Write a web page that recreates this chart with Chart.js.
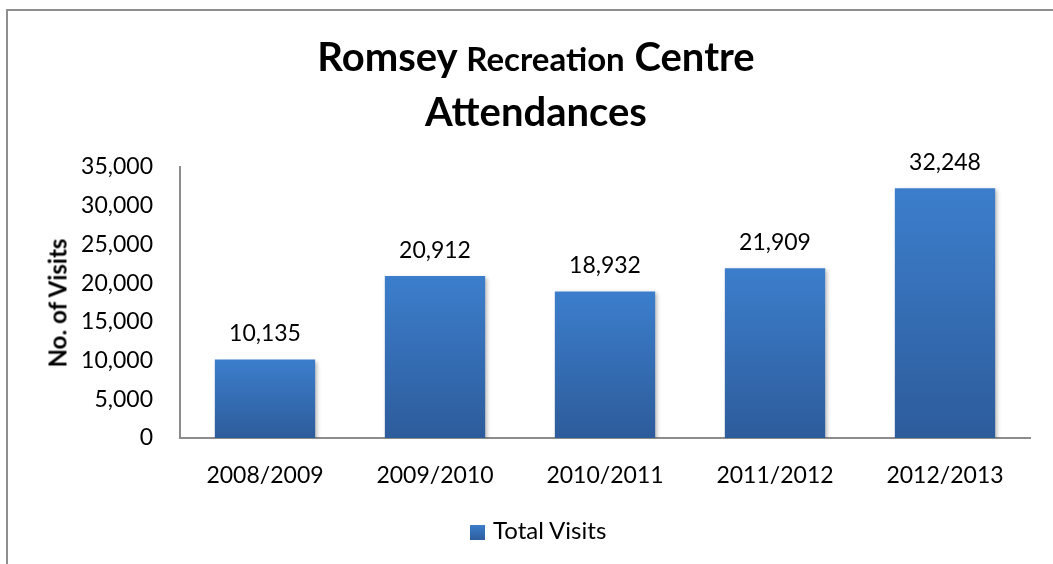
<!DOCTYPE html>
<html>
<head>
<meta charset="utf-8">
<script src="https://cdn.jsdelivr.net/npm/chart.js@4.4.0/dist/chart.umd.min.js"></script>
<style>
  html, body { margin: 0; padding: 0; background: #fff; }
  #wrap { position: relative; width: 1053px; height: 564px; overflow: hidden; font-family: Lato, 'Open Sans', sans-serif; color: #000; }
  #frame { position: absolute; left: 6px; top: 9px; width: 1100px; height: 600px; border-left: 2px solid #8e8e8e; border-top: 2px solid #8e8e8e; }
  #title { position: absolute; left: 0; width: 1072px; top: 30px; text-align: center; font-weight: bold; font-size: 40px; line-height: 53px; }
  #title .small { font-size: 33px; }
  #ytitle { position: absolute; left: 57px; top: 303px; transform: translate(-50%, -50%) rotate(-90deg); font-weight: bold; font-size: 24px; white-space: nowrap; }
  #legend { position: absolute; left: 470px; top: 515px; font-size: 24px; line-height: 30px; white-space: nowrap; }
  #legend .box { display: inline-block; width: 15px; height: 15px; margin-right: 8px; vertical-align: -1px; background: linear-gradient(#3c7dcb, #2e5d9d); }
  canvas { position: absolute; left: 0; top: 0; }
</style>
</head>
<body>
<div id="wrap">
  <div id="frame"></div>
  <canvas id="chart" width="1053" height="564"></canvas>
  <div id="title">Romsey <span class="small">Recreation</span> Centre<br>Attendances</div>
  <div id="ytitle">No. of Visits</div>
  <div id="legend"><span class="box"></span>Total Visits</div>
</div>
<script>
// Seasons and visit totals
const seasons = ['2008/2009', '2009/2010', '2010/2011', '2011/2012', '2012/2013'];
const totalVisits = [10135, 20912, 18932, 21909, 32248];
const seriesName = 'Total Visits';

const fmt = v => v.toLocaleString('en-US');

// Per-bar vertical gradient, lighter at top
const barFill = (ctx) => {
  const chart = ctx.chart;
  const area = chart.chartArea;
  if (!area || ctx.raw == null) return '#3670b8';
  const yTop = chart.scales.y.getPixelForValue(ctx.raw);
  const g = chart.ctx.createLinearGradient(0, yTop, 0, area.bottom);
  g.addColorStop(0, '#3c7ecc');
  g.addColorStop(1, '#2d5c9b');
  return g;
};

// soft shadow under bars + value labels on top
const barExtras = {
  id: 'barExtras',
  beforeDatasetsDraw(chart) {
    const c = chart.ctx;
    c.save();
    c.shadowColor = 'rgba(0,0,0,0.28)';
    c.shadowBlur = 4;
    c.shadowOffsetX = 2;
    c.shadowOffsetY = 2;
  },
  afterDatasetsDraw(chart) {
    const c = chart.ctx;
    c.restore();
    c.save();
    c.font = '23px Lato';
    c.fillStyle = '#000';
    c.textAlign = 'center';
    c.textBaseline = 'middle';
    chart.getDatasetMeta(0).data.forEach((bar, i) => {
      c.fillText(fmt(totalVisits[i]), bar.x, bar.y - 26);
    });
    c.restore();
  }
};

new Chart(document.getElementById('chart'), {
  type: 'bar',
  data: {
    labels: seasons,
    datasets: [{
      label: seriesName,
      data: totalVisits,
      backgroundColor: barFill,
      borderWidth: 0,
      categoryPercentage: 1,
      barPercentage: 0.59
    }]
  },
  options: {
    responsive: false,
    animation: false,
    layout: { padding: { left: 0, top: 167, right: 23, bottom: 0 } },
    plugins: {
      legend: { display: false },
      title: { display: false },
      tooltip: { enabled: false }
    },
    scales: {
      x: {
        grid: { display: false, drawTicks: false },
        border: { color: '#8c8c8c', width: 2 },
        ticks: { padding: 24, color: '#000', font: { family: 'Lato', size: 23 } },
        afterFit: (s) => { s.height = 126; }
      },
      y: {
        min: 0,
        max: 35000,
        grid: { display: false, drawTicks: false },
        border: { color: '#8c8c8c', width: 2 },
        ticks: {
          stepSize: 5000,
          padding: 27,
          color: '#000',
          font: { family: 'Lato', size: 23 },
          callback: (v) => fmt(v)
        },
        afterFit: (s) => { s.width = 180; }
      }
    }
  },
  plugins: [barExtras]
});
</script>
</body>
</html>
